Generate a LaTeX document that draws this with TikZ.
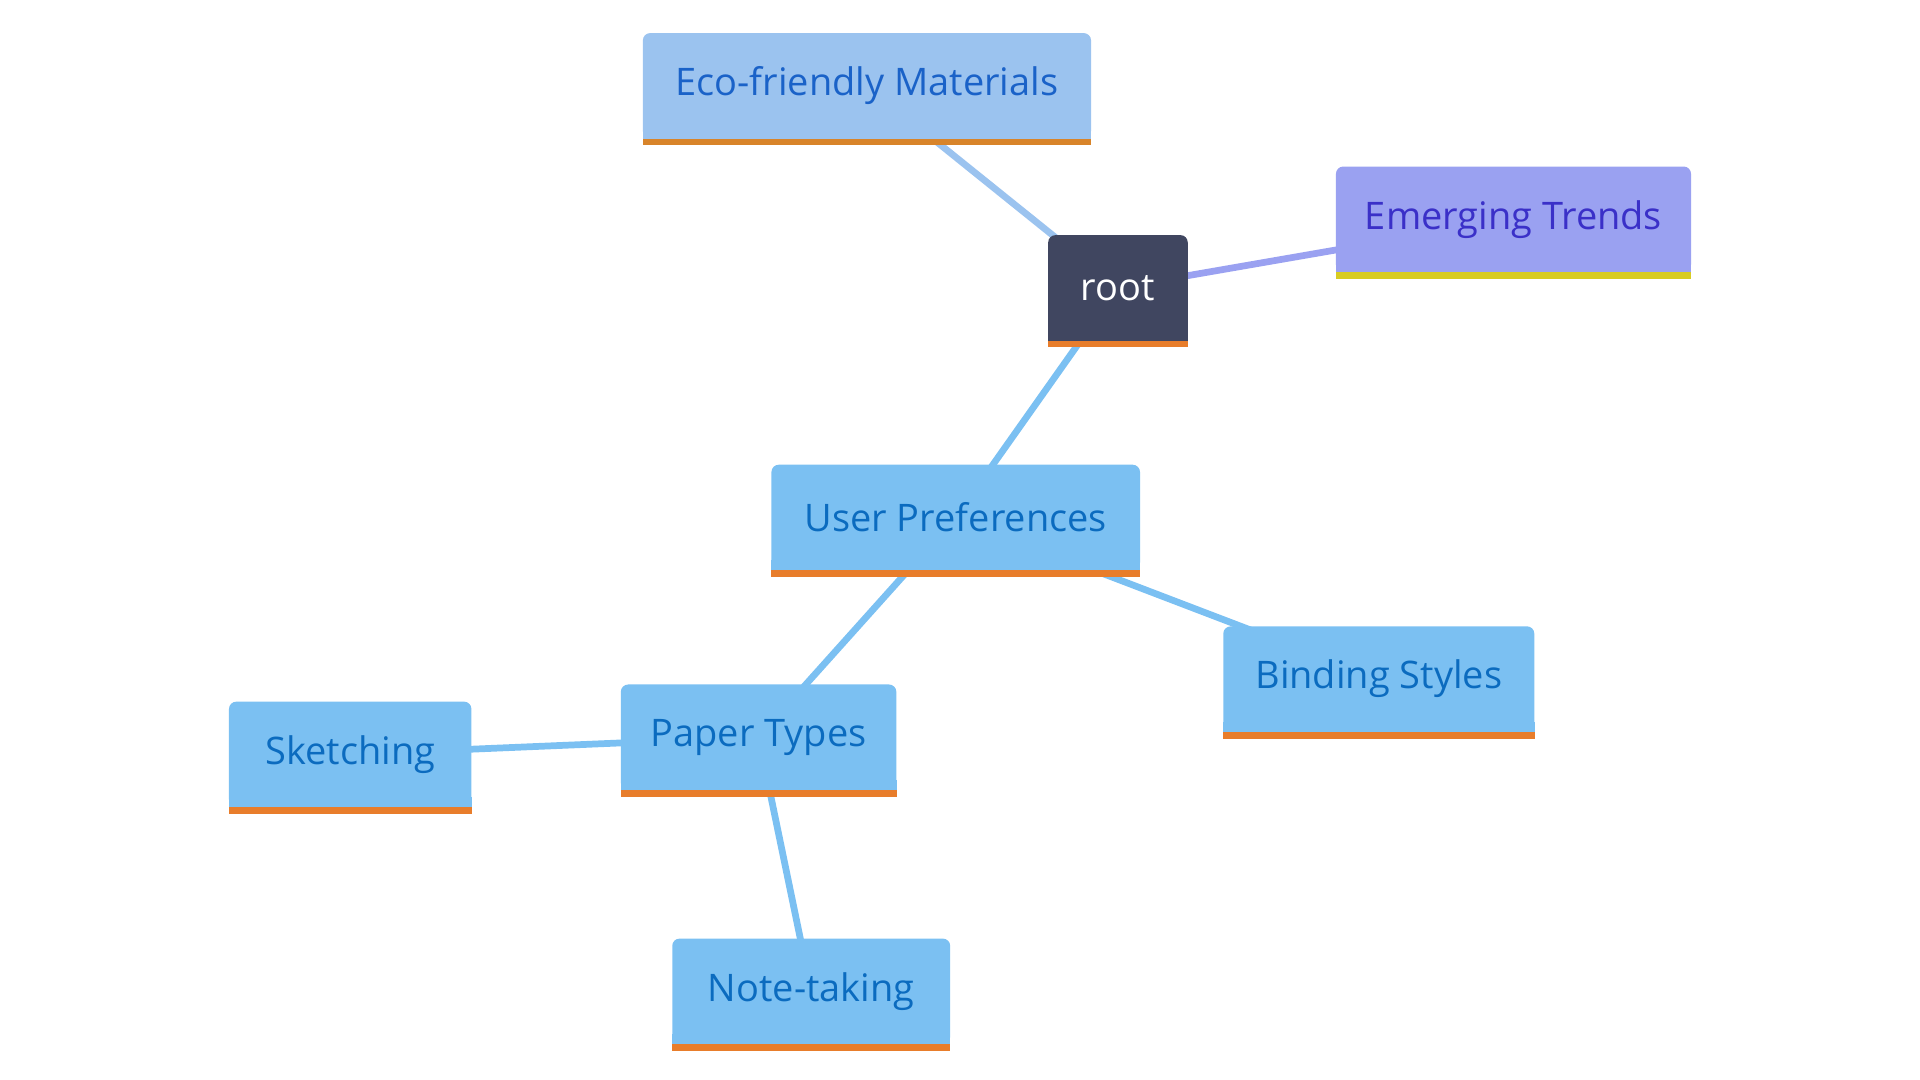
\documentclass[tikz,border=0pt]{standalone}
\usepackage{fontspec}
\setmainfont{Open Sans}
\usetikzlibrary{backgrounds}

\definecolor{boxblue}{HTML}{7BC0F2}
\definecolor{textblue}{HTML}{0B6BBF}
\definecolor{ecoblue}{HTML}{9BC3EF}
\definecolor{ecotext}{HTML}{1A62C8}
\definecolor{trendfill}{HTML}{9AA1F1}
\definecolor{trendtext}{HTML}{3A30C8}
\definecolor{rootfill}{HTML}{404660}
\definecolor{barorange}{HTML}{E87D2B}
\definecolor{ecobar}{HTML}{D8842A}
\definecolor{trendbar}{HTML}{D8CC22}

\tikzset{
	topic/.style={rectangle, rounded corners=6pt, inner sep=0pt, minimum height=86pt,
		fill=boxblue, text=textblue, font=\fontsize{31}{36}\selectfont},
	link/.style={line width=5.5pt, boxblue}
}

\begin{document}
\begin{tikzpicture}[x=1pt,y=-1pt]
	\useasboundingbox (0,0) rectangle (1568,882);
	\node [topic, minimum width=366pt, fill=ecoblue, text=ecotext] (eco) at (708,70) {Eco-friendly Materials};
	\node [topic, minimum width=290pt, fill=trendfill, text=trendtext] (trends) at (1236,179) {Emerging Trends};
	\node [topic, minimum width=114pt, fill=rootfill, text=white] (root) at (913,235) {root};
	\node [topic, minimum width=301pt] (user) at (780.5,422.5) {User Preferences};
	\node [topic, minimum width=254pt] (binding) at (1126,554.5) {Binding Styles};
	\node [topic, minimum width=225pt] (paper) at (619.5,602) {Paper Types};
	\node [topic, minimum width=198pt] (sketch) at (286,616) {Sketching};
	\node [topic, minimum width=227pt] (notes) at (662.5,809.5) {Note-taking};
	% square off the bottoms, then the bars
	\foreach \n/\b/\c in {eco/ecoblue/ecobar, trends/trendfill/trendbar, root/rootfill/barorange,
		user/boxblue/barorange, binding/boxblue/barorange, paper/boxblue/barorange,
		sketch/boxblue/barorange, notes/boxblue/barorange} {
		\fill [\b] ([yshift=8pt]\n.south west) rectangle (\n.south east);
		\fill [\c] (\n.south west) rectangle ([yshift=-5.5pt]\n.south east);
	}
	\begin{scope}[on background layer]
		\draw [link, ecoblue] (root.center) -- (eco.center);
		\draw [link, trendfill] (root.center) -- (trends.center);
		\draw [link] (root.center) -- (user.center);
		\draw [link] (user.center) -- (paper.center);
		\draw [link] (user.center) -- (binding.center);
		\draw [link] (paper.center) -- (sketch.center);
		\draw [link] (paper.center) -- (notes.center);
	\end{scope}
\end{tikzpicture}
\end{document}
